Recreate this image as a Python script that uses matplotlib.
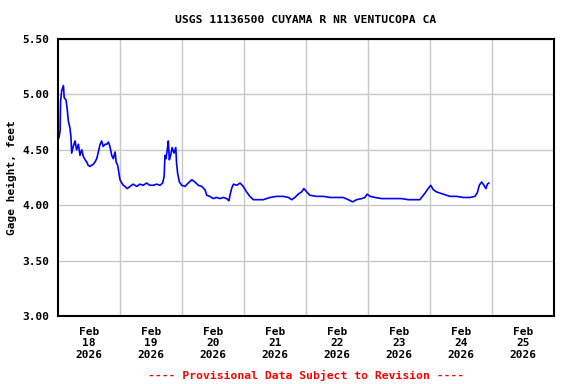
import numpy as np
import matplotlib.pyplot as plt

# hours since 2026-02-18 00:00 and gage height (ft)
hours = [0.4, 0.8, 1.0, 1.4, 2.1, 2.4, 3.1, 3.6, 4.0, 4.6, 5.0, 5.3, 5.9, 6.6, 7.2,
         7.9, 8.5, 9.2, 9.8, 10.5, 11.1, 11.7, 12.4, 13.0, 13.7, 14.3, 15.0, 15.6,
         16.3, 16.9, 17.5, 18.2, 18.9, 19.5, 20.1, 20.8, 21.4, 22.1, 22.5, 23.1,
         23.6, 24.0, 24.7, 25.3, 25.9, 26.8, 27.9, 29.1, 30.5, 31.7, 33.0, 34.3,
         35.6, 36.9, 38.2, 39.5, 40.5, 41.1, 41.4, 41.8, 42.3, 42.7, 43.1, 43.6,
         44.2, 44.9, 45.6, 45.9, 46.3, 47.0, 47.9, 49.2, 50.4, 51.8, 53.0, 54.3,
         55.6, 56.9, 57.6, 58.8, 60.1, 61.4, 62.7, 64.0, 65.3, 66.2, 66.6, 67.2,
         67.9, 69.2, 70.5, 71.7, 73.0, 74.3, 75.6, 77.5, 79.5, 82.1, 84.7, 87.2,
         89.2, 90.5, 91.7, 93.0, 94.3, 95.2, 96.3, 97.5, 100.1, 102.7, 105.3,
         107.9, 110.4, 112.4, 114.1, 115.6, 117.6, 118.8, 119.7, 120.8, 122.7,
         125.3, 127.9, 130.5, 133.0, 135.6, 138.2, 140.1, 142.1, 143.3, 144.3,
         145.3, 146.6, 149.2, 151.7, 154.3, 156.9, 159.5, 161.4, 162.3, 163.1,
         164.0, 164.9, 165.7, 166.2, 166.8]
gage = [4.61, 4.67, 4.94, 5.03, 5.08, 4.97, 4.95, 4.86, 4.76, 4.70, 4.62, 4.47,
        4.53, 4.58, 4.50, 4.55, 4.45, 4.50, 4.44, 4.41, 4.39, 4.36, 4.35, 4.36,
        4.37, 4.39, 4.42, 4.48, 4.55, 4.58, 4.53, 4.55, 4.55, 4.57, 4.53, 4.45,
        4.42, 4.48, 4.39, 4.36, 4.29, 4.23, 4.20, 4.18, 4.17, 4.15, 4.17, 4.19,
        4.17, 4.19, 4.18, 4.20, 4.18, 4.18, 4.19, 4.18, 4.20, 4.26, 4.45, 4.42,
        4.50, 4.58, 4.41, 4.45, 4.52, 4.47, 4.52, 4.38, 4.29, 4.21, 4.18, 4.17,
        4.20, 4.23, 4.21, 4.18, 4.17, 4.14, 4.09, 4.08, 4.06, 4.07, 4.06, 4.07,
        4.06, 4.04, 4.09, 4.15, 4.19, 4.18, 4.20, 4.17, 4.12, 4.08, 4.05, 4.05,
        4.05, 4.07, 4.08, 4.08, 4.07, 4.05, 4.07, 4.10, 4.12, 4.15, 4.12, 4.09,
        4.08, 4.08, 4.07, 4.07, 4.07, 4.05, 4.03, 4.05, 4.06, 4.07, 4.10, 4.08,
        4.07, 4.06, 4.06, 4.06, 4.06, 4.05, 4.05, 4.05, 4.11, 4.15, 4.18, 4.14,
        4.12, 4.10, 4.08, 4.08, 4.07, 4.07, 4.08, 4.11, 4.18, 4.21, 4.18, 4.15,
        4.19, 4.20]

start = np.datetime64("2026-02-18T00:00")
t = start + (np.array(hours) * 60).astype("timedelta64[m]")
day_labels = ["Feb\n18\n2026", "Feb\n19\n2026", "Feb\n20\n2026", "Feb\n21\n2026",
              "Feb\n22\n2026", "Feb\n23\n2026", "Feb\n24\n2026", "Feb\n25\n2026"]
y_ticks = [3.00, 3.50, 4.00, 4.50, 5.00, 5.50]

font = "DejaVu Sans Mono"
fig = plt.figure(figsize=(5.76, 3.84), dpi=100)
ax = fig.add_axes([0.1007, 0.177, 0.861, 0.7214])
ax.plot(t, gage, color="#0000ff", lw=1.2)

noon = start + np.arange(8) * np.timedelta64(24, "h") + np.timedelta64(12, "h")
midnight = start + np.arange(1, 8) * np.timedelta64(24, "h")
ax.set_xlim(start, start + np.timedelta64(8 * 24, "h"))
ax.set_xticks(noon)
ax.set_xticklabels(day_labels, fontfamily=font, fontweight="bold", fontsize=8,
                   linespacing=1.15)
ax.set_xticks(midnight, minor=True)
ax.set_ylim(3.0, 5.5)
ax.set_yticks(y_ticks)
ax.set_yticklabels(["%.2f" % v for v in y_ticks], fontfamily=font,
                   fontweight="bold", fontsize=8)
ax.tick_params(which="both", length=0)
ax.tick_params(axis="x", pad=8)
ax.tick_params(axis="y", pad=6)
ax.grid(False)
ax.grid(True, axis="x", which="minor", color="#c8c8c8", lw=1)
ax.grid(True, axis="y", which="major", color="#c8c8c8", lw=1)
ax.set_axisbelow(True)
for s in ax.spines.values():
    s.set_linewidth(1.5)

ax.set_ylabel("Gage height, feet", fontfamily=font, fontweight="bold", fontsize=8,
              labelpad=4)
fig.text(0.531, 0.948, "USGS 11136500 CUYAMA R NR VENTUCOPA CA", ha="center",
         va="center", fontfamily=font, fontweight="bold", fontsize=8.2)
fig.text(0.531, 0.023, "---- Provisional Data Subject to Revision ----", ha="center",
         va="center", fontfamily=font, fontweight="bold", fontsize=8.2, color="#ff0000")

fig.savefig("out.png", dpi=100)
